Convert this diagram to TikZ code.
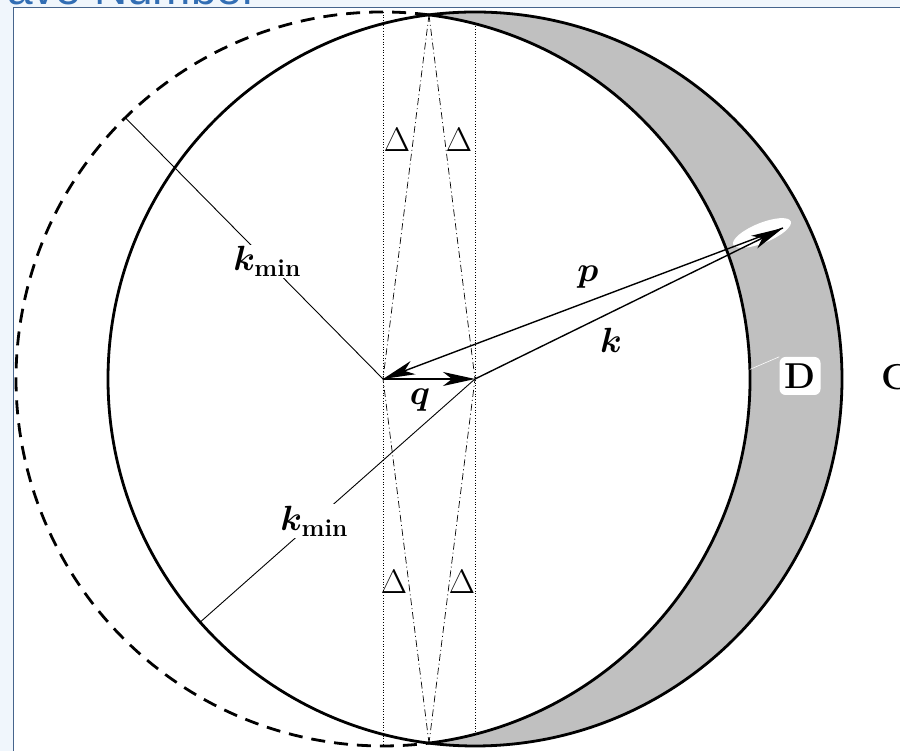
\RequirePackage{fix-cm}
\documentclass[tikz,border=0pt]{standalone}
\usepackage{xcolor}
\usepackage{tikz}
\usetikzlibrary{arrows.meta}
\usepackage{amsmath}
\usepackage{fontspec}
\newfontfamily\titlefont{Liberation Sans}
\definecolor{slidebg}{RGB}{240,246,252}
\definecolor{slideframe}{RGB}{70,100,140}
\definecolor{slidetitle}{RGB}{50,110,180}
\definecolor{shellgray}{RGB}{192,192,192}

\begin{document}
\begin{tikzpicture}[
  x=1pt,y=1pt,
  sphere/.style={line width=2.8pt},
  chord/.style={line width=0.7pt,dotted},
  guide/.style={line width=0.7pt,dash pattern=on 7pt off 3pt on 1pt off 3pt},
  radline/.style={line width=0.9pt},
  vec/.style={line width=1.4pt,-{Stealth[length=32pt,width=14pt,inset=9pt]}},
  lab/.style={font=\fontsize{35}{40}\selectfont\boldmath,inner sep=2pt},
  delta/.style={font=\fontsize{34}{40}\selectfont,inner sep=0pt},
  tag/.style={font=\fontsize{36}{40}\selectfont\bfseries,inner sep=3pt}
]
\useasboundingbox (0,0) rectangle (900,751);
\fill[slidebg] (0,0) rectangle (900,751);
\draw[slideframe,fill=white,line width=1pt] (13,-10) rectangle (920,743);
\node[anchor=base west,inner sep=0pt,text=slidetitle,font=\titlefont\fontsize{46}{50}\selectfont] (title) at (7,746) {ave Number};

\coordinate (O) at (383,372);
\coordinate (Q) at (475,372);
\coordinate (T) at ([shift={(82.8:367)}]O);
\coordinate (B) at ([shift={(-82.8:367)}]O);
\coordinate (P) at (783,523);

\fill[shellgray] (T) arc[start angle=97.2,end angle=-97.2,radius=367]
  arc[start angle=-82.8,end angle=82.8,radius=367] -- cycle;
\fill[white,rotate around={22:(762,518)}] (762,518) ellipse[x radius=31,y radius=10];

\coordinate (c1) at ([shift={(90:367)}]O);
\coordinate (c2) at ([shift={(-90:367)}]O);
\coordinate (c3) at ([shift={(75.5:367)}]O);
\coordinate (c4) at ([shift={(-75.5:367)}]O);
\draw[chord] (c1) -- (c2);
\draw[chord] (c3) -- (c4);
\draw[guide] (T) -- (O) -- (B);
\draw[guide] (T) -- (Q) -- (B);

\draw[sphere] (Q) circle[radius=367];
\draw[sphere] (B) arc[start angle=-82.8,end angle=82.8,radius=367];
\draw[sphere,dash pattern=on 14pt off 9pt] (T) arc[start angle=82.8,end angle=277.2,radius=367];

\coordinate (r1) at ([shift={(134.6:367)}]O);
\coordinate (r2) at ([shift={(221.5:367)}]Q);
\draw[radline] (O) -- node[lab,fill=white,pos=0.45] (kmin1) {$k_{\textbf{min}}$} (r1);
\draw[radline] (Q) -- node[lab,fill=white,pos=0.585] (kmin2) {$k_{\textbf{min}}$} (r2);

\draw[vec] (P) -- (O);
\draw[vec] (Q) -- (P);
\draw[vec] (O) -- (Q);

\node[lab] (p) at (588,474) {$p$};
\node[lab] (k) at (611,411) {$k$};
\node[lab] (q) at (420,351) {$q$};

\node[delta] (d1) at (397,611) {$\Delta$};
\node[delta] (d2) at (459,611) {$\Delta$};
\node[delta] (d3) at (394,169) {$\Delta$};
\node[delta] (d4) at (462,169) {$\Delta$};

\node[tag,fill=white,rounded corners=6pt,minimum width=41pt,minimum height=38pt] (D) at (800,375) {D};
\coordinate (Dfoot) at ([shift={(1.5:367)}]O);
\draw[white,line width=0.6pt] (D.north west) -- (Dfoot);
\node[tag,anchor=west,inner sep=0pt] (C) at (881,374) {C};
\end{tikzpicture}
\end{document}
